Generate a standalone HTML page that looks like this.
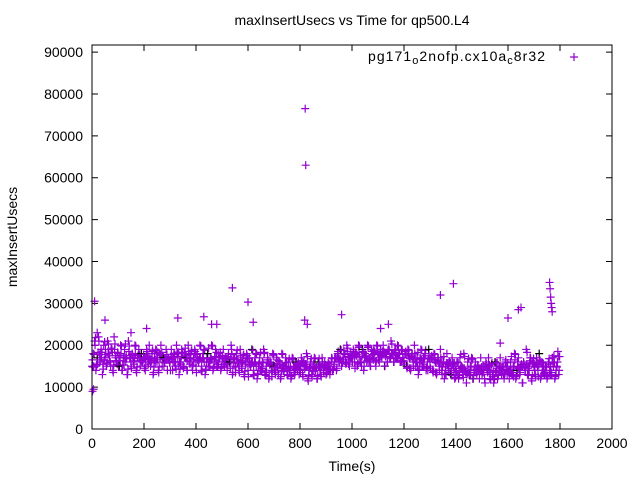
<!DOCTYPE html>
<html><head><meta charset="utf-8"><style>
body{margin:0;background:#fff;}
svg text{font-family:"Liberation Sans",sans-serif;font-size:14px;fill:#000;}
</style></head><body>
<svg id="chart" width="640" height="480" viewBox="0 0 640 480" xmlns="http://www.w3.org/2000/svg">
<rect width="640" height="480" fill="#fff"/>
<text x="352" y="25" text-anchor="middle">maxInsertUsecs vs Time for qp500.L4</text>
<text transform="translate(17,237) rotate(-90)" text-anchor="middle">maxInsertUsecs</text>
<text x="352" y="471" text-anchor="middle">Time(s)</text>
<g id="axes"></g>
<g id="points"></g>
<rect x="92" y="45" width="520" height="384" fill="none" stroke="#000" stroke-width="1"/>
<g>
<text x="368" y="61" font-size="15" textLength="177" lengthAdjust="spacing">pg171<tspan font-size="11" dy="3">o</tspan><tspan dy="-3">2nofp.cx10a</tspan><tspan font-size="11" dy="3">c</tspan><tspan dy="-3">8r32</tspan></text>
<path d="M570 57h8M574 53v8" stroke="#9400d3" stroke-width="1.2"/>
</g>
</svg>
<script>
const xTicks=[0,200,400,600,800,1000,1200,1400,1600,1800,2000];
const yTicks=[0,10000,20000,30000,40000,50000,60000,70000,80000,90000];
const step=5;
const valuesK=[
15,18,21,14,17,22,16,19,13,20,17,15,21,18,16,19,14,22,17,16,
18,15,20,14,17,19,16,13,21,17,15,18,16,20,14,17,19,15,18,16,
17,14,19,16,20,15,18,13,17,19,16,14,18,20,15,17,16,19,14,17,
16,19,14,18,15,20,17,13,16,19,15,18,17,14,20,16,18,15,17,19,
15,18,16,20,14,17,19,13,16,18,15,17,20,14,16,19,15,18,17,14,
16,19,15,17,14,18,16,20,13,17,15,18,16,14,19,15,17,13,16,18,
14,17,15,19,13,16,18,12,15,17,14,16,19,13,15,17,12,16,14,18,
15,13,17,14,16,12,18,14,15,17,13,16,14,12,17,15,13,16,14,15,
14,17,13,16,15,18,12,14,16,13,15,17,14,12,16,15,13,17,14,16,
13,15,14,13,16,14,15,17,14,18,16,19,15,17,18,16,20,17,15,18,
17,19,16,18,15,20,17,16,19,14,18,17,20,16,15,19,17,18,16,20,
18,16,19,17,20,15,18,16,19,17,21,18,16,19,17,20,18,16,19,17,
16,18,15,19,17,14,18,16,20,15,17,13,16,19,15,17,18,14,16,19,
15,17,14,18,16,13,17,15,19,14,16,12,15,18,14,16,13,17,15,12,
14,16,12,17,15,13,18,14,11,16,13,15,17,12,14,16,13,15,12,17,
13,15,12,16,14,17,12,15,13,11,16,14,12,15,17,13,14,12,16,15,
14,12,16,13,15,18,12,14,17,13,15,11,16,14,19,13,15,17,12,16,
15,13,17,14,18,12,16,14,13,15,12,16,14,13,17,15,12,14,16,13];
const outlierTimes=[2,6,10,20,50,150,210,330,430,460,480,540,600,620,820,822,818,828,960,1110,1140,1340,1390,1570,1600,1640,1650,1760,1762,1764,1766,1768,1770];
const outlierValues=[9000,9500,30500,23000,26000,23000,24000,26500,26800,25000,25000,33700,30300,25500,76500,63000,26000,25000,27300,24000,25000,32000,34700,20500,26500,28500,29000,35000,33500,31500,30000,29000,28000];

const X0=92,X1=612,Y0=429,Y1=45,YMAX=91700;
const xs=v=>X0+(v-0)/2000*(X1-X0);
const ys=v=>Y0-(v-0)/YMAX*(Y0-Y1);
const NS="http://www.w3.org/2000/svg";
const axes=document.getElementById('axes');
const pts=document.getElementById('points');
function mk(tag,attrs,parent){const e=document.createElementNS(NS,tag);for(const k in attrs)e.setAttribute(k,attrs[k]);parent.appendChild(e);return e;}
xTicks.forEach(t=>{
  const x=xs(t);
  const l=mk('path',{d:`M${x} ${Y0}v-6M${x} ${Y1}v6`,stroke:'#000','stroke-width':1},axes);
  
  
  const tx=mk('text',{x:x,y:Y0+19,'text-anchor':'middle'},axes);
  tx.textContent=t;
  
  
});
yTicks.forEach(t=>{
  const y=ys(t);
  const l=mk('path',{d:`M${X0} ${y}h6M${X1} ${y}h-6`,stroke:'#000','stroke-width':1},axes);
  
  
  const tx=mk('text',{x:X0-9,y:y+5,'text-anchor':'end'},axes);
  tx.textContent=t;
  
  
});
function cross(t,v,color){
  const x=xs(t),y=ys(v);
  const p=mk('path',{d:`M${x-4} ${y}h8M${x} ${y-4}v8`,stroke:color,'stroke-width':1.2},pts);
  
  
}
valuesK.forEach((v,i)=>{
  cross(i*step,v*1000,i%17===4?'#000':'#9400d3');
  cross(i*step+1.7,(v+valuesK[(i+7)%valuesK.length])/2*1000-500,'#9400d3');
  cross(i*step+3.4,(v+valuesK[(i+3)%valuesK.length])/2*1000+300,'#9400d3');
});
outlierTimes.forEach((t,i)=>cross(t,outlierValues[i],'#9400d3'));
</script>
</body></html>
